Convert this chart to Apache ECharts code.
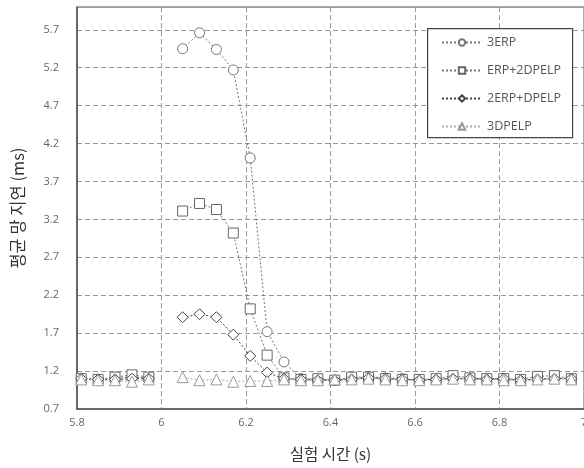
<!DOCTYPE html>
<html><head><meta charset="utf-8">
<script src="https://cdn.jsdelivr.net/npm/echarts@6/dist/echarts.min.js"></script>
<style>html,body{margin:0;padding:0;background:#fff}#c{width:584px;height:468px}</style>
</head><body><div id="c"></div>
<script>
const time = [5.81,5.85,5.89,5.93,5.97,6.01,6.05,6.09,6.13,6.17,6.21,6.25,6.29,6.33,6.37,6.41,6.45,6.49,6.53,6.57,6.61,6.65,6.69,6.73,6.77,6.81,6.85,6.89,6.93,6.97];
const erp3 = [1.10,1.09,1.10,1.12,1.11,null,5.45,5.66,5.44,5.17,4.01,1.72,1.32,1.10,1.09,1.08,1.10,1.13,1.11,1.10,1.08,1.09,1.11,1.10,1.10,1.09,1.08,1.09,1.11,1.10];
const erpDpelp2 = [1.10,1.09,1.12,1.15,1.12,null,3.31,3.41,3.33,3.02,2.02,1.41,1.11,1.09,1.10,1.08,1.12,1.12,1.10,1.09,1.09,1.10,1.14,1.11,1.10,1.10,1.09,1.13,1.14,1.10];
const erp2Dpelp = [1.10,1.09,1.09,1.10,1.10,null,1.91,1.95,1.91,1.68,1.40,1.18,1.10,1.09,1.08,1.08,1.09,1.11,1.10,1.09,1.08,1.09,1.10,1.10,1.09,1.10,1.08,1.09,1.10,1.10];
const dpelp3 = [1.09,1.08,1.08,1.06,1.09,null,1.12,1.08,1.09,1.06,1.07,1.07,1.09,1.08,1.08,1.09,1.09,1.10,1.09,1.08,1.08,1.09,1.10,1.09,1.09,1.08,1.08,1.09,1.10,1.09];
const seriesNames = ['3ERP','ERP+2DPELP','2ERP+DPELP','3DPELP'];

const pair = arr => time.map((t,i)=>[t, arr[i]]);
const numFont = "'Open Sans', 'Noto Sans', sans-serif";
const krFont = "'Noto Sans CJK KR', sans-serif";

function mk(name, arr, symbol, size, lineColor, markColor){
  return {
    name, type:'line', data: pair(arr), symbol, symbolSize:size,
    connectNulls:false,
    lineStyle:{color:lineColor, width:1, type:[2,2]},
    itemStyle:{color:'#fff', borderColor:markColor, borderWidth:1},
    emphasis:{disabled:true}
  };
}

const chart = echarts.init(document.getElementById('c'), null, {renderer:'canvas'});
chart.setOption({
  animation:false,
  backgroundColor:'#fff',
  grid:{left:77, top:7, right:0, bottom:59, containLabel:false, outerBoundsMode:'none',
    show:true, borderColor:'#555', borderWidth:1, backgroundColor:'transparent'},
  xAxis:{
    type:'value', min:5.8, max:7, interval:0.2,
    name:'실험 시간 (s)', nameLocation:'middle', nameGap:37,
    nameTextStyle:{fontFamily:krFont, fontSize:15.5, color:'#333'},
    axisLine:{lineStyle:{color:'#555', width:1.5}},
    axisTick:{show:false},
    axisLabel:{fontFamily:numFont, fontSize:11, color:'#666', margin:8},
    splitLine:{show:true, lineStyle:{color:'#999', type:[5,3], width:1}}
  },
  yAxis:{
    type:'value', min:0.7, max:6.0, interval:0.5,
    name:'평균 망 지연 (ms)', nameLocation:'middle', nameGap:51, nameRotate:90,
    nameTextStyle:{fontFamily:krFont, fontSize:16.5, color:'#333'},
    axisLine:{lineStyle:{color:'#555', width:1.5}},
    axisTick:{show:false},
    axisLabel:{fontFamily:numFont, fontSize:11, color:'#666', margin:18, showMaxLabel:false,
      formatter: v => (Math.abs(v-6.0)<1e-6 ? '' : v.toFixed(1))},
    splitLine:{show:true, lineStyle:{color:'#999', type:[5,3], width:1}}
  },
  graphic:[{type:'rect', left:427, top:28, shape:{width:145, height:109}, z:50,
    style:{fill:'#fff', stroke:'#444', lineWidth:1.2}}],
  legend:{
    orient:'vertical', left:436, top:31, z:60,
    itemWidth:40, itemHeight:8, itemGap:15,
    textStyle:{fontFamily:numFont, fontSize:12.5, color:'#555'},
    data:seriesNames
  },
  series:[
    mk(seriesNames[0], erp3, 'circle', 10, '#777', '#777'),
    mk(seriesNames[1], erpDpelp2, 'rect', 10, '#777', '#666'),
    mk(seriesNames[2], erp2Dpelp, 'diamond', 11, '#444', '#444'),
    mk(seriesNames[3], dpelp3, 'triangle', 11, '#aaa', '#999')
  ]
});
</script></body></html>
